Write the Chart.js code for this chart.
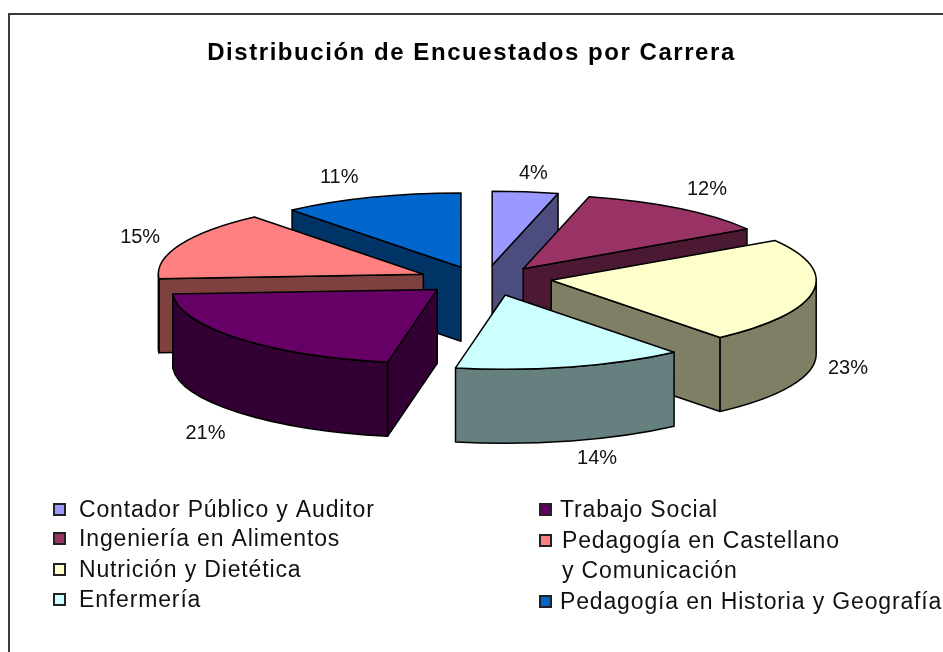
<!DOCTYPE html>
<html><head><meta charset="utf-8">
<style>html,body{margin:0;padding:0;background:#fff}#w{width:943px;height:652px;position:relative}canvas{display:block}</style>
<script src="https://cdn.jsdelivr.net/npm/chart.js@4"></script></head>
<body><div id="w"><canvas id="c" width="943" height="652"></canvas></div>
<script>
const categories = ['Contador Público y Auditor','Ingeniería en Alimentos','Nutrición y Dietética','Enfermería','Trabajo Social','Pedagogía en Castellano y Comunicación','Pedagogía en Historia y Geografía'];
const values = [4,12,23,14,21,15,11];
const topColors = ['#9999FF','#993366','#FFFFCC','#CCFFFF','#660066','#FF8080','#0066CC'];
const sideColors = ['#4C4C7F','#4C1933','#7F7F66','#667F7F','#330033','#7F4040','#003366'];
const explode = [65,65,65,65,65,65,65];
const sliceNudgeX = [1,2,4,6,3,0,0];
const sliceNudgeY = [3,3,-3,-3,-3,1,4];
const labelNudge = [[9,-15],[30,-16],[39,74],[32,89],[-30,92],[-40,-6],[-32,-16]];
const titleText = 'Distribución de Encuestados por Carrera';
const legendLeft = [[0,511],[1,540],[2,571],[3,601]];
const legendRight = [[4,511],[5,542],[6,603]];
const SQUASH = 0.28, DEPTH = 74, RADIUS = 265, SHIFT_X = 11.5;

const pie3d = {
  id:'pie3d',
  beforeDraw(chart){
    const c = chart.ctx; c.save();
    c.strokeStyle='#3a3a3a'; c.lineWidth=2; c.beginPath();
    c.moveTo(9,652); c.lineTo(9,14); c.lineTo(943,14); c.stroke(); c.restore();
    c.letterSpacing='1.55px';
  },
  beforeDatasetDraw(chart){
    const c = chart.ctx, arcs = chart.getDatasetMeta(0).data;
    c.letterSpacing='0px';
    const order = arcs.map((a,i)=>i).sort((p,q)=>{
      const m=i=>Math.sin((arcs[i].startAngle+arcs[i].endAngle)/2);
      return m(p)-m(q);
    });
    for(const i of order){
      const a = arcs[i], off = explode[i], s=a.startAngle, e=a.endAngle, mid=(s+e)/2, R=a.outerRadius;
      const cx = a.x+SHIFT_X+sliceNudgeX[i]+off*Math.cos(mid), cy = a.y+sliceNudgeY[i]+off*Math.sin(mid)*SQUASH;
      const px = t=>cx+R*Math.cos(t), py = t=>cy+R*SQUASH*Math.sin(t);
      c.save(); c.lineWidth=1.5; c.strokeStyle='#000'; c.fillStyle=sideColors[i]; c.lineJoin='round';
      const radial = t=>{ c.beginPath(); c.moveTo(cx,cy); c.lineTo(px(t),py(t)); c.lineTo(px(t),py(t)+DEPTH); c.lineTo(cx,cy+DEPTH); c.closePath(); c.fill(); c.stroke(); };
      // faces turned towards the viewer
      if(Math.cos(s)<0) radial(s);
      if(Math.cos(e)>0) radial(e);
      const t1=Math.max(s,0), t2=Math.min(e,Math.PI);
      if(t2>t1){
        c.beginPath(); c.ellipse(cx,cy,R,R*SQUASH,0,t1,t2,false);
        c.ellipse(cx,cy+DEPTH,R,R*SQUASH,0,t2,t1,true); c.closePath(); c.fill(); c.stroke();
      }
      // top face drawn by the library's own arc element
      c.save(); c.translate(cx,cy); c.scale(1,SQUASH); c.translate(-a.x,-a.y); a.draw(c); c.restore();
      c.beginPath(); c.moveTo(cx,cy); c.lineTo(px(s),py(s)); c.ellipse(cx,cy,R,R*SQUASH,0,s,e,false); c.closePath(); c.stroke();
      c.restore();
    }
    return false;
  },
  afterDraw(chart){
    const c = chart.ctx, arcs = chart.getDatasetMeta(0).data;
    c.save(); c.fillStyle='#111'; c.textBaseline='middle'; c.letterSpacing='0px';
    c.font='20px "Liberation Sans"'; c.textAlign='center';
    arcs.forEach((a,i)=>{
      const mid=(a.startAngle+a.endAngle)/2, r=explode[i]+a.outerRadius;
      c.fillText(values[i]+'%', a.x+SHIFT_X+r*Math.cos(mid)+labelNudge[i][0], a.y+r*SQUASH*Math.sin(mid)+labelNudge[i][1]);
    });
    c.textAlign='left'; c.font='23px "Liberation Sans"'; c.letterSpacing='0.85px';
    const swatch=(i,x,y)=>{ c.fillStyle=topColors[i]; c.fillRect(x,y-7,11,11); c.strokeStyle='#222'; c.lineWidth=2; c.strokeRect(x,y-7,11,11); c.fillStyle='#111'; };
    legendLeft.forEach(([i,y])=>{ swatch(i,54,y); c.fillText(categories[i],79,y); });
    legendRight.forEach(([i,y])=>{
      swatch(i,540,y);
      if(i===5){ c.fillText('Pedagogía en Castellano',562,y); c.fillText('y Comunicación',562,y+30); }
      else c.fillText(categories[i],560,y);
    });
    c.restore();
  }
};
new Chart(document.getElementById('c'),{
  type:'pie',
  data:{labels:categories,datasets:[{data:values,backgroundColor:topColors,borderWidth:0}]},
  plugins:[pie3d],
  options:{
    responsive:false,animation:false,radius:RADIUS,
    layout:{padding:{top:39,bottom:159,left:0,right:0}},
    plugins:{
      legend:{display:false},tooltip:{enabled:false},
      title:{display:true,text:titleText,color:'#000',font:{family:'"Liberation Sans"',size:24,weight:'bold',lineHeight:1.2},padding:0}
    }
  }
});
</script></body></html>
